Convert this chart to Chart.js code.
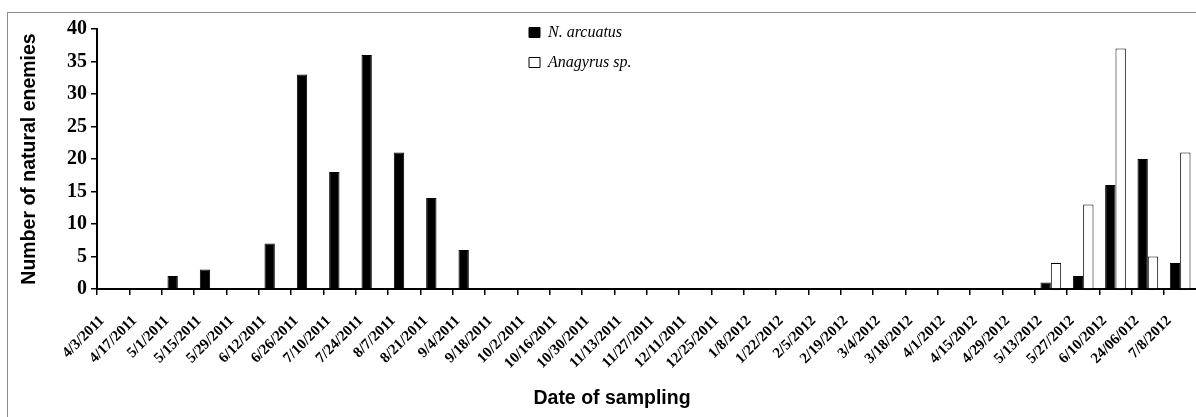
<!DOCTYPE html>
<html>
<head>
<meta charset="utf-8">
<script src="https://cdn.jsdelivr.net/npm/chart.js@4.4.0/dist/chart.umd.min.js"></script>
<style>
html,body{margin:0;padding:0;background:#fff;overflow:hidden;}
#wrap{position:relative;width:1196px;height:417px;overflow:hidden;background:#fff;}
#frame{position:absolute;left:7px;top:12px;width:1400px;height:600px;border:1px solid #8c8c8c;box-sizing:border-box;}
#box{position:absolute;left:0;top:0;width:1210px;height:417px;}
</style>
</head>
<body>
<div id="wrap">
  <div id="frame"></div>
  <div id="box"><canvas id="c"></canvas></div>
</div>
<script>
const categories = ['4/3/2011','4/17/2011','5/1/2011','5/15/2011','5/29/2011','6/12/2011','6/26/2011','7/10/2011','7/24/2011','8/7/2011','8/21/2011','9/4/2011','9/18/2011','10/2/2011','10/16/2011','10/30/2011','11/13/2011','11/27/2011','12/11/2011','12/25/2011','1/8/2012','1/22/2012','2/5/2012','2/19/2012','3/4/2012','3/18/2012','4/1/2012','4/15/2012','4/29/2012','5/13/2012','5/27/2012','6/10/2012','24/06/012','7/8/2012'];
const nArcuatus = [0,0,2,3,0,7,33,18,36,21,14,6,0,0,0,0,0,0,0,0,0,0,0,0,0,0,0,0,0,1,2,16,20,4];
const anagyrus  = [0,0,0,0,0,0,0,0,0,0,0,0,0,0,0,0,0,0,0,0,0,0,0,0,0,0,0,0,0,4,13,37,5,21];
const seriesNames = ['N. arcuatus','Anagyrus sp.'];
const yTicks = [0,5,10,15,20,25,30,35,40];

const placeBoxes = {
  id: 'placeBoxes',
  afterLayout(chart) {
    const lg = chart.legend;
    if (lg) {
      const h = lg.height, w = lg.width;
      lg.left = 529 - 14; lg.right = lg.left + w;
      lg.top = 32.5 - 8 - 14; lg.bottom = lg.top + h;
    }
    const t = chart.titleBlock;
    if (t) {
      t.left = 612 - 300; t.right = 612 + 300; t.width = 600;
    }
  }
};

new Chart(document.getElementById('c'), {
  type: 'bar',
  data: {
    labels: categories,
    datasets: [
      { label: seriesNames[0], data: nArcuatus, backgroundColor: '#000', borderColor: '#000', borderWidth: 1, categoryPercentage: 0.64, barPercentage: 1.0 },
      { label: seriesNames[1], data: anagyrus, backgroundColor: '#fff', borderColor: '#000', borderWidth: 1, categoryPercentage: 0.64, barPercentage: 1.0 }
    ]
  },
  options: {
    responsive: true,
    maintainAspectRatio: false,
    animation: false,
    layout: { padding: { top: 29, bottom: 6.3, left: 0, right: 8 } },
    plugins: {
      tooltip: { enabled: false },
      legend: {
        position: 'chartArea',
        align: 'start',
        labels: {
          boxWidth: 11, boxHeight: 10, padding: 14, color: '#000',
          font: { family: '"Liberation Serif"', size: 16, style: 'italic' }
        }
      },
      title: {
        display: true, position: 'bottom', text: 'Date of sampling', color: '#000',
        font: { family: '"Liberation Sans"', size: 19.5, weight: 'bold' },
        padding: { top: 0, bottom: 0 }
      }
    },
    scales: {
      x: {
        offset: true,
        ticks: {
          autoSkip: false, maxRotation: 45, minRotation: 45, color: '#000',
          font: { family: '"Liberation Serif"', size: 15, weight: 'bold' },
          labelOffset: -11, padding: 17
        },
        grid: { offset: true, drawOnChartArea: false, drawTicks: true, tickLength: 6, color: '#000', lineWidth: 1.5 },
        border: { display: true, color: '#000', width: 2 },
        afterFit(s) { s.height = 98.3; }
      },
      y: {
        min: 0, max: 40,
        afterBuildTicks(s) { s.ticks = yTicks.map(v => ({ value: v })); },
        ticks: {
          color: '#000', padding: 4,
          font: { family: '"Liberation Serif"', size: 20, weight: 'bold' }
        },
        grid: { drawOnChartArea: false, drawTicks: true, tickLength: 6, color: '#000', lineWidth: 1.5 },
        border: { display: true, color: '#000', width: 2 },
        title: {
          display: true, text: 'Number of natural enemies', color: '#000',
          font: { family: '"Liberation Sans"', size: 19.5, weight: 'bold' },
          padding: { top: 18, bottom: 0 }
        },
        afterFit(s) { s.width = 97; }
      }
    }
  },
  plugins: [placeBoxes]
});
</script>
</body>
</html>
